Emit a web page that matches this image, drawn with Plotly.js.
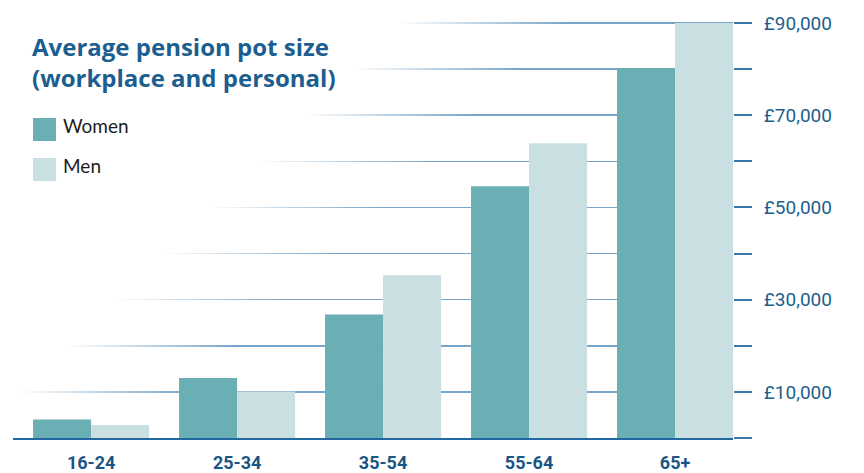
<!DOCTYPE html>
<html>
<head>
<meta charset="utf-8">
<script src="https://cdn.plot.ly/plotly-3.0.1.min.js"></script>
<style>
  html, body { margin: 0; padding: 0; background: #ffffff; }
  #chart { width: 864px; height: 473px; }
</style>
</head>
<body>
<div id="chart"></div>
<script>
// ---- Data ----
const categories = ['16-24', '25-34', '35-54', '55-64', '65+'];
const seriesNames = ['Women', 'Men'];
const womenValues = [4000, 13000, 26800, 54600, 80200];
const menValues = [2800, 10100, 35300, 63900, 90000];
const yTickVals = [0, 10000, 20000, 30000, 40000, 50000, 60000, 70000, 80000, 90000];
const yTickText = ['', '£10,000', '', '£30,000', '', '£50,000', '', '£70,000', '', '£90,000'];
const chartTitle = 'Average pension pot size<br>(workplace and personal)';

// ---- Style ----
const seriesColors = ['#69afb3', '#c9dfe2'];
const titleColor = '#1b5e8f';
const gridColor = '#78a5c9';
const tickColor = '#3b78a8';

const W = 864, H = 473;
const M = { l: 13, r: 131, t: 18, b: 35 };
const plotH = H - M.t - M.b;
const plotW = W - M.l - M.r;
const px = x => (x - M.l) / plotW;         // pixel -> paper x
const py = y => (H - M.b - y) / plotH;      // pixel -> paper y

const traces = [womenValues, menValues].map((vals, i) => ({
  type: 'bar',
  name: seriesNames[i],
  x: categories,
  y: vals,
  marker: { color: seriesColors[i], line: { width: 0 } },
  showlegend: false,
  hoverinfo: 'skip'
}));

// custom legend (big squares + labels)
const legendY = [[118, 141], [158, 181]];
const shapes = seriesNames.map((n, i) => ({
  type: 'rect', xref: 'paper', yref: 'paper',
  x0: px(33), x1: px(56), y0: py(legendY[i][1]), y1: py(legendY[i][0]),
  fillcolor: seriesColors[i], line: { width: 0 }
}));
const annotations = seriesNames.map((n, i) => ({
  text: n, xref: 'paper', yref: 'paper',
  x: px(61), y: py((legendY[i][0] + legendY[i][1]) / 2 - 4),
  xanchor: 'left', yanchor: 'middle', showarrow: false,
  font: { family: 'Lato, sans-serif', size: 19, color: '#1c1c1c' }
}));

const layout = {
  width: W, height: H,
  margin: M,
  paper_bgcolor: '#ffffff',
  plot_bgcolor: 'rgba(0,0,0,0)',
  barmode: 'group',
  bargap: 0.205,
  bargroupgap: 0,
  title: {
    text: chartTitle,
    xref: 'container', yref: 'container',
    x: 32 / W, xanchor: 'left',
    y: 1 - 56 / H, yanchor: 'top',
    font: { family: '"Open Sans", sans-serif', size: 24, weight: 700, color: titleColor }
  },
  xaxis: {
    type: 'category',
    range: [-0.535, 4.397],
    showgrid: false,
    zeroline: false,
    showline: true,
    linecolor: '#2369a0',
    linewidth: 2,
    ticks: '',
    ticklabelstandoff: 7,
    tickfont: { family: 'Roboto, sans-serif', size: 18, weight: 700, color: '#1b5585' }
  },
  yaxis: {
    side: 'right',
    range: [0, 91080],
    tickvals: yTickVals,
    ticktext: yTickText,
    ticks: 'outside',
    ticklen: 18,
    tickwidth: 2,
    tickcolor: tickColor,
    showgrid: true,
    gridcolor: gridColor,
    gridwidth: 1.6,
    zeroline: false,
    showline: false,
    ticklabelstandoff: 8,
    tickfont: { family: 'Roboto, sans-serif', size: 19, color: '#1d5f8d' }
  },
  shapes: shapes,
  annotations: annotations
};

const gd = document.getElementById('chart');
Plotly.newPlot(gd, traces, layout, { staticPlot: true, displayModeBar: false }).then(applyGradients);

// Gridlines fade out towards the top-left, as in the reference
function applyGradients() {
  const svg = gd.querySelector('svg.main-svg');
  const ns = 'http://www.w3.org/2000/svg';
  let defs = svg.querySelector('defs');
  if (!defs) { defs = document.createElementNS(ns, 'defs'); svg.insertBefore(defs, svg.firstChild); }
  const sr = svg.getBoundingClientRect();
  gd.querySelectorAll('.gridlayer path.ygrid').forEach((p, i) => {
    const r = p.getBoundingClientRect();
    const bb = p.getBBox();
    const y = r.top - sr.top + r.height / 2;
    const xs = 20 + (391 - y) * 1.03;   // fade start (screen px)
    const offset = bb.x - (r.left - sr.left);
    const g = document.createElementNS(ns, 'linearGradient');
    g.setAttribute('id', 'gridfade' + i);
    g.setAttribute('gradientUnits', 'userSpaceOnUse');
    g.setAttribute('x1', xs + offset);
    g.setAttribute('x2', xs + 170 + offset);
    g.setAttribute('y1', bb.y);
    g.setAttribute('y2', bb.y);
    [[0, 0], [1, 1]].forEach(([o, a]) => {
      const s = document.createElementNS(ns, 'stop');
      s.setAttribute('offset', o);
      s.setAttribute('stop-color', gridColor);
      s.setAttribute('stop-opacity', a);
      g.appendChild(s);
    });
    defs.appendChild(g);
    p.style.stroke = 'url(#gridfade' + i + ')';
  });
}
</script>
</body>
</html>
